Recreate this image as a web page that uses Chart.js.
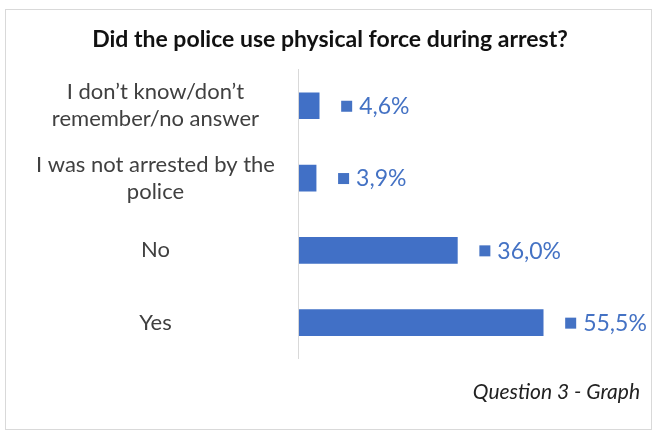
<!DOCTYPE html>
<html>
<head>
<meta charset="utf-8">
<script src="https://cdn.jsdelivr.net/npm/chart.js@4"></script>
<style>
html,body{margin:0;padding:0;background:#fff;}
#frame{position:absolute;left:5px;top:9px;width:645px;height:419px;border:1px solid #d9d9d9;}
#wrap{position:absolute;left:0;top:0;width:657px;height:435px;}
</style>
</head>
<body>
<div id="frame"></div>
<div id="wrap"><canvas id="c" width="657" height="435"></canvas></div>
<script>
const categories = [
  ["I don\u2019t know/don\u2019t", "remember/no answer"],
  ["I was not arrested by the", "police"],
  "No",
  "Yes"
];
const values = [4.6, 3.9, 36.0, 55.5];
const valueLabels = ["4,6%", "3,9%", "36,0%", "55,5%"];
const titleText = "Did the police use physical force during arrest?";
const footerText = "Question 3 - Graph";

const FONT = "Lato, 'Open Sans', sans-serif";
const BLUE = "#4472C4";

const labelPlugin = {
  id: 'valueLabels',
  afterDatasetsDraw(chart) {
    const ctx = chart.ctx;
    const meta = chart.getDatasetMeta(0);
    ctx.save();
    ctx.font = "23px " + FONT;
    ctx.textBaseline = 'middle';
    ctx.textAlign = 'left';
    meta.data.forEach((bar, i) => {
      const x = bar.x;
      const y = bar.y;
      ctx.fillStyle = BLUE;
      ctx.fillRect(x + 22, y - 5, 11, 11);
      ctx.fillText(valueLabels[i], x + 40, y + 1);
    });
    ctx.restore();
  }
};

new Chart(document.getElementById('c'), {
  type: 'bar',
  data: {
    labels: categories,
    datasets: [{
      data: values,
      backgroundColor: "#4170C6",
      borderWidth: 0,
      barThickness: 26
    }]
  },
  options: {
    indexAxis: 'y',
    responsive: false,
    animation: false,
    layout: { padding: { top: 26, right: 17, bottom: 20, left: 20 } },
    plugins: {
      legend: { display: false },
      tooltip: { enabled: false },
      title: {
        display: true,
        text: titleText,
        color: '#111',
        font: { family: FONT, size: 23, weight: 'bold' },
        padding: { top: 0, bottom: 16 }
      },
      subtitle: {
        display: true,
        text: footerText,
        position: 'bottom',
        align: 'end',
        color: '#222',
        font: { family: FONT, size: 21, style: 'italic' },
        padding: { top: 21, bottom: 10 }
      }
    },
    scales: {
      x: {
        display: false,
        min: 0,
        max: 77.5
      },
      y: {
        grid: { display: false },
        border: { display: true, color: '#d9d9d9', width: 1 },
        ticks: {
          color: '#404040',
          font: { family: FONT, size: 22, lineHeight: 1.22 },
          crossAlign: 'center',
          padding: 16
        }
      }
    }
  },
  plugins: [labelPlugin]
});
</script>
</body>
</html>
